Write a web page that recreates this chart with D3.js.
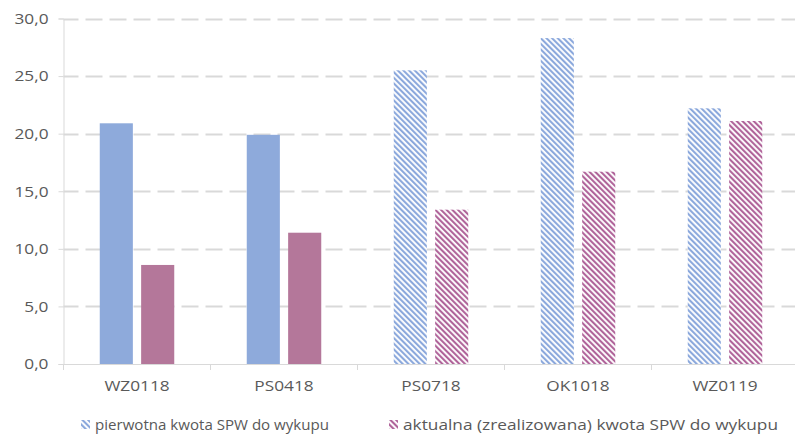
<!DOCTYPE html>
<html>
<head>
<meta charset="utf-8">
<script src="https://cdn.jsdelivr.net/npm/d3@7"></script>
<style>
  html, body { margin: 0; padding: 0; background: #fff; }
  svg { display: block; }
  text { font-family: "Open Sans", "Noto Sans", sans-serif; fill: #595959; }
</style>
</head>
<body>
<svg id="chart" width="795" height="436"></svg>
<script>
// Bond series (SPW buy-back amounts, bn PLN)
const categories = ["WZ0118", "PS0418", "PS0718", "OK1018", "WZ0119"];
const seriesNames = [
  "pierwotna kwota SPW do wykupu",
  "aktualna (zrealizowana) kwota SPW do wykupu"
];
const original = [20.9, 19.9, 25.5, 28.3, 22.2];
const actual   = [8.6, 11.4, 13.4, 16.7, 21.1];
// bonds still pending are drawn with a hatched fill
const pending  = [false, false, true, true, true];
const yTicks   = [0, 5, 10, 15, 20, 25, 30];

const colors = ["#8eaadb", "#b4779a"];
const hatchColors = ["#8ba8dc", "#b0649a"];

const svg = d3.select("#chart");
const W = 795, H = 436;
const margin = { left: 63.5, right: -3.5, top: 18.5, bottom: 72 };
const plotBottom = H - margin.bottom;
const fontSize = "15px";
const stretch = 1.15;   // labels are set slightly wide

// widen a text element horizontally by the given factor
function widen(sel, k) {
  sel.each(function () {
    const w = this.getComputedTextLength();
    d3.select(this).attr("textLength", w * k).attr("lengthAdjust", "spacingAndGlyphs");
  });
}

const x0 = d3.scaleBand().domain(categories).range([margin.left, W - margin.right]);
const x1 = d3.scaleBand().domain([0, 1]).range([0, 74.5]).paddingInner(0.2);
const groupOffset = (x0.bandwidth() - 74.5) / 2;
const y = d3.scaleLinear().domain([0, 30]).range([plotBottom, margin.top]);

// hatch patterns
const defs = svg.append("defs");
hatchColors.forEach((c, i) => {
  const p = defs.append("pattern")
    .attr("id", "hatch" + i)
    .attr("patternUnits", "userSpaceOnUse")
    .attr("width", 4).attr("height", 4)
    .attr("patternTransform", "rotate(-45)");
  p.append("rect").attr("width", 4).attr("height", 4).attr("fill", "#fff");
  p.append("rect").attr("x", 0).attr("y", 0).attr("width", 2.1).attr("height", 4).attr("fill", c);
});

// gridlines
const grid = svg.append("g");
grid.selectAll("line").data(yTicks.filter(d => d > 0)).join("line")
  .attr("x1", margin.left).attr("x2", W)
  .attr("y1", d => Math.round(y(d)) + 0.5).attr("y2", d => Math.round(y(d)) + 0.5)
  .attr("stroke", "#d9d9d9").attr("stroke-width", 2)
  .attr("stroke-dasharray", "17 7").attr("stroke-dashoffset", -22);

// y axis
const yAxis = d3.axisLeft(y).tickValues(yTicks)
  .tickFormat(d => d3.format(".1f")(d).replace(".", ","))
  .tickSize(5).tickPadding(10);
const gy = svg.append("g").attr("transform", `translate(${margin.left},0)`).call(yAxis);
gy.select(".domain").attr("stroke", "#d9d9d9");
gy.selectAll(".tick line").attr("stroke", "#d9d9d9");
gy.selectAll(".tick text").style("font-size", fontSize).attr("fill", "#595959").call(widen, stretch);

// bars
const groups = svg.append("g").selectAll("g").data(categories).join("g")
  .attr("transform", d => `translate(${x0(d) + groupOffset},0)`);
groups.selectAll("rect")
  .data((d, i) => [original[i], actual[i]].map((v, s) => ({ v, s, hatched: pending[i] })))
  .join("rect")
  .attr("x", d => x1(d.s))
  .attr("width", x1.bandwidth())
  .attr("y", d => y(d.v))
  .attr("height", d => plotBottom - y(d.v))
  .attr("fill", d => d.hatched ? `url(#hatch${d.s})` : colors[d.s]);

// x axis
const xAxis = d3.axisBottom(x0).tickSize(0).tickPadding(16);
const gx = svg.append("g").attr("transform", `translate(0,${plotBottom})`).call(xAxis);
gx.select(".domain").attr("stroke", "#d9d9d9").attr("stroke-width", 1.2);
gx.selectAll(".tick text").style("font-size", fontSize).attr("fill", "#595959").call(widen, stretch);
// category separator ticks
const bounds = categories.map(c => x0(c));
gx.selectAll(".sep").data(bounds).join("line").attr("class", "sep")
  .attr("x1", d => d).attr("x2", d => d)
  .attr("y1", 0).attr("y2", 6)
  .attr("stroke", "#d9d9d9");

// legend
const legendX = [81, 389];
const legendWidths = [234, 375];
const legend = svg.append("g").selectAll("g").data(seriesNames).join("g")
  .attr("transform", (d, i) => `translate(${legendX[i]},420)`);
legend.append("rect").attr("width", 9).attr("height", 9)
  .attr("fill", (d, i) => `url(#hatch${i})`);
legend.append("text").attr("x", 14).attr("y", 5).attr("dy", "0.35em")
  .style("font-size", fontSize)
  .attr("textLength", (d, i) => legendWidths[i])
  .attr("lengthAdjust", "spacingAndGlyphs")
  .text(d => d);
</script>
</body>
</html>
